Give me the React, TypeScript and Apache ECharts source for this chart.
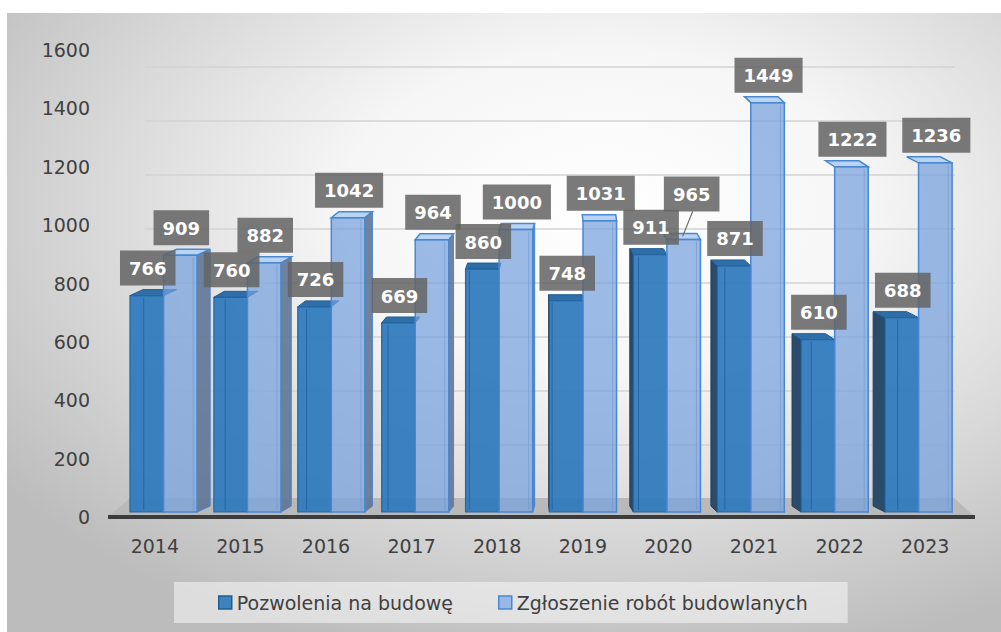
import React, { useEffect, useRef } from "react";
import * as echarts from "echarts";

// ---- data ----
const years = ["2014", "2015", "2016", "2017", "2018", "2019", "2020", "2021", "2022", "2023"];
const pozwolenia = [766, 760, 726, 669, 860, 748, 911, 871, 610, 688];
const zgloszenia = [909, 882, 1042, 964, 1000, 1031, 965, 1449, 1222, 1236];
const seriesNames = ["Pozwolenia na budowę", "Zgłoszenie robót budowlanych"];
const yMin = 0;
const yMax = 1600;
const yStep = 200;

// ---- style constants ----
const FONT = "'DejaVu Sans', sans-serif";
const TEXT = "#404040";
const VP_X = 560; // pseudo vanishing point for 3D side faces
const DEPTH_K = 0.033;
const DEPTH_Y = 6;
// label nudges for the light series (index -> [dx, dy])
const lightLabelNudge: Record<number, [number, number]> = { 6: [7, -18] };

type Kind = "dark" | "light";

function makeRender(kind: Kind) {
  return (params: any, api: any) => {
    const i = api.value(0) as number;
    const v = api.value(1) as number;
    const pt = api.coord([i, v]);
    const base = api.coord([i, 0]);
    const bw = api.size([1, 0])[0];
    const w = bw * 0.4;
    const cx = pt[0];
    const x0 = kind === "dark" ? cx - w : cx;
    const x1 = x0 + w;
    const yT = pt[1];
    const yB = base[1];
    const dx = (VP_X - cx) * DEPTH_K;
    const dy = -DEPTH_Y;
    const children: any[] = [];

    if (kind === "dark" && dx < 0) {
      children.push({
        type: "polygon",
        shape: { points: [[x0, yT], [x0 + dx, yT + dy], [x0 + dx, yB + dy], [x0, yB]] },
        style: { fill: "#2b4b6b", stroke: "#1f3b57", lineWidth: 1 },
      });
    }
    if (kind === "light" && dx > 0) {
      children.push({
        type: "polygon",
        shape: { points: [[x1, yT], [x1 + dx, yT + dy], [x1 + dx, yB + dy], [x1, yB]] },
        style: { fill: "rgba(92,114,148,0.88)", stroke: "#4a87d0", lineWidth: 1 },
      });
    }
    // top face
    children.push({
      type: "polygon",
      shape: { points: [[x0, yT], [x1, yT], [x1 + dx, yT + dy], [x0 + dx, yT + dy]] },
      style:
        kind === "dark"
          ? { fill: "#2f6fa8", stroke: "#1f5d96", lineWidth: 1 }
          : { fill: "#b9d3f3", stroke: "#4a87d0", lineWidth: 1.5 },
    });
    // front face
    children.push({
      type: "rect",
      shape: { x: x0, y: yT, width: w, height: yB - yT },
      style:
        kind === "dark"
          ? { fill: "rgba(46,122,188,0.93)", stroke: "#2466a3", lineWidth: 1.2 }
          : { fill: "rgba(118,162,222,0.72)", stroke: "#4a87d0", lineWidth: 1.5 },
    });
    // inner back edge line (3D hint)
    const innerX = kind === "dark" ? x0 + Math.abs(dx) * 0.9 + 2 : x1 - 4;
    children.push({
      type: "line",
      shape: { x1: innerX, y1: yT + 2, x2: innerX, y2: yB - 2 },
      style: { stroke: kind === "dark" ? "rgba(30,90,150,0.7)" : "rgba(110,150,210,0.6)", lineWidth: 1 },
    });

    // data label
    const nudge = kind === "light" ? lightLabelNudge[i] : undefined;
    const barCx = (x0 + x1) / 2;
    const lx = barCx + 1 + (nudge ? nudge[0] : 0);
    const ly = yT - 10 + (nudge ? nudge[1] : 0);
    if (nudge) {
      children.push({
        type: "line",
        z2: 40,
        shape: { x1: lx + 1, y1: ly, x2: barCx - 1, y2: yT - 3 },
        style: { stroke: "#6a6a6a", lineWidth: 1.2 },
      });
    }
    children.push({
      type: "text",
      z2: 50,
      x: lx,
      y: ly,
      style: {
        text: String(v),
        fill: "#ffffff",
        font: `bold 18px ${FONT}`,
        align: "center",
        verticalAlign: "bottom",
        lineHeight: 20,
        backgroundColor: "rgba(100,100,100,0.86)",
        padding: [8, 9, 7, 9],
      },
    });
    return { type: "group", children };
  };
}

export default function App() {
  const ref = useRef<HTMLDivElement>(null);

  useEffect(() => {
    if (!ref.current) return;
    const chart = echarts.init(ref.current, undefined, { renderer: "svg" });

    const bg = new echarts.graphic.RadialGradient(0.6, 0.32, 0.75, [
      { offset: 0, color: "#ffffff" },
      { offset: 0.35, color: "#f6f6f6" },
      { offset: 1, color: "#bcbcbc" },
    ]);

    const option: any = {
      animation: false,
      graphic: {
        elements: [
          {
            type: "rect",
            z: -100,
            silent: true,
            shape: { x: 7, y: 13, width: 994, height: 619 },
            style: { fill: bg },
          },
          {
            type: "polygon",
            z: 1,
            silent: true,
            shape: { points: [[108, 517], [975, 517], [954, 498], [130, 498]] },
            style: { fill: "#b9b9b9" },
          },
          {
            type: "line",
            z: 1,
            silent: true,
            shape: { x1: 108, y1: 517, x2: 975, y2: 517 },
            style: { stroke: "#3c3c3c", lineWidth: 4 },
          },
        ],
      },
      legend: {
        left: 174,
        top: 582,
        orient: "horizontal",
        padding: [11, 40, 11, 44],
        itemGap: 45,
        itemWidth: 13,
        itemHeight: 13,
        backgroundColor: "rgba(248,248,248,0.55)",
        textStyle: { color: TEXT, fontSize: 19, fontFamily: FONT },
        data: [
          { name: seriesNames[0], icon: "rect", itemStyle: { color: "#3d84bf", borderColor: "#1f5d96", borderWidth: 1.5 } },
          { name: seriesNames[1], icon: "rect", itemStyle: { color: "#98b9e6", borderColor: "#4a87d0", borderWidth: 1.5 } },
        ],
      },
      grid: [
        // labels grid
        { left: 112, right: 33, top: 50, bottom: 115 },
        // back wall gridlines
        { left: 145, right: 46, top: 67, bottom: 133 },
        // bars
        { left: 121.6, right: 40.5, top: 60, bottom: 120 },
      ],
      xAxis: [
        {
          type: "category",
          gridIndex: 0,
          data: years,
          axisLine: { show: false },
          axisTick: { show: false },
          axisLabel: { color: TEXT, fontSize: 19, fontFamily: FONT, margin: 19 },
        },
        { type: "category", gridIndex: 1, data: years, show: false },
        { type: "category", gridIndex: 2, data: years, show: false },
      ],
      yAxis: [
        {
          type: "value",
          gridIndex: 0,
          min: yMin,
          max: yMax,
          interval: yStep,
          axisLine: { show: false },
          axisTick: { show: false },
          splitLine: { show: false },
          axisLabel: {
            color: TEXT,
            fontSize: 19,
            fontFamily: FONT,
            margin: 22,
            formatter: (val: number) => String(val),
          },
        },
        {
          type: "value",
          gridIndex: 1,
          min: yMin,
          max: yMax,
          interval: yStep,
          axisLine: { show: false },
          axisTick: { show: false },
          axisLabel: { show: false },
          splitLine: { show: true, lineStyle: { color: "#d3d3d3", width: 1.5 } },
        },
        {
          type: "value",
          gridIndex: 2,
          min: yMin,
          max: yMax,
          show: false,
          splitLine: { show: false },
        },
      ],
      series: [
        {
          name: seriesNames[0],
          type: "custom",
          xAxisIndex: 2,
          yAxisIndex: 2,
          itemStyle: { color: "#3d84bf" },
          encode: { x: 0, y: 1 },
          data: pozwolenia.map((v, i) => [i, v]),
          renderItem: makeRender("dark"),
          clip: false,
        },
        {
          name: seriesNames[1],
          type: "custom",
          xAxisIndex: 2,
          yAxisIndex: 2,
          itemStyle: { color: "#98b9e6" },
          encode: { x: 0, y: 1 },
          data: zgloszenia.map((v, i) => [i, v]),
          renderItem: makeRender("light"),
          clip: false,
        },
      ],
    };

    chart.setOption(option);
    return () => chart.dispose();
  }, []);

  return (
    <div
      ref={ref}
      style={{ position: "absolute", left: 0, top: 0, width: 1001, height: 632, background: "#ffffff" }}
    />
  );
}
